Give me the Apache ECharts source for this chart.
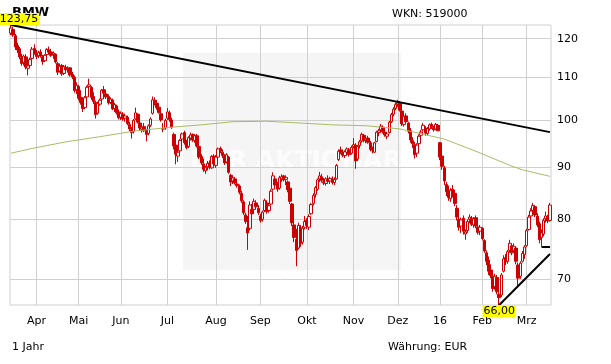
<!DOCTYPE html>
<html><head><meta charset="utf-8">
<script src="https://cdn.jsdelivr.net/npm/echarts@6/dist/echarts.min.js"></script>
<style>html,body{margin:0;padding:0;background:#fff}#c{width:611px;height:364px}</style>
</head><body><div id="c"></div>
<script>
// ---- data (BMW, daily OHLC, 16.03.2015 - 16.03.2016) ----
const open = [
121.5,122.5,120.8,118.2,117.3,115.0,113.8,115.2,112.3,113.0,
114.8,117.4,116.0,115.5,116.5,115.2,114.2,115.8,117.0,116.5,
115.8,115.9,113.5,111.6,113.0,111.0,112.5,112.0,112.4,110.8,
110.0,107.0,107.8,105.2,104.2,102.8,105.3,107.8,107.6,105.4,
104.0,101.5,103.6,104.8,107.0,106.0,105.4,104.0,104.6,102.6,
103.2,101.8,100.6,101.3,100.4,100.6,99.0,97.8,97.4,100.2,
101.3,99.3,97.9,98.5,97.5,
97.0,98.8,101.5,104.5,103.8,
102.9,101.4,98.0,98.2,100.4,101.6,100.0,96.8,94.5,92.2,
93.3,95.8,97.2,95.1,94.2,96.0,96.8,95.5,96.5,94.2,
92.1,90.6,89.2,90.0,90.8,89.8,92.2,90.3,92.0,93.8,
93.0,92.1,91.0,92.0,88.3,87.2,87.6,86.6,86.2,84.8,
83.2,80.8,78.5,78.4,81.8,81.8,83.0,82.0,80.6,80.0,
81.6,83.0,81.6,82.8,85.6,87.6,86.5,85.8,
87.6,88.2,87.5,87.0,85.8,82.8,79.0,76.5,75.0,78.5,76.0,78.6,
79.8,78.6,81.0,82.9,84.6,85.6,87.6,88.0,87.0,86.7,
87.5,87.2,87.6,86.9,87.6,91.5,93.5,92.9,92.3,93.0,
93.5,92.8,94.2,94.5,91.6,94.4,95.4,96.6,95.6,96.0,
95.0,93.5,93.0,95.3,97.2,97.8,98.4,97.3,96.4,97.2,
99.6,101.3,102.6,103.6,103.8,102.0,99.0,100.9,99.3,97.6,
95.5,
94.6,92.8,94.8,96.6,97.8,98.2,97.0,98.0,99.0,
98.3,98.0,98.8,95.0,92.2,89.8,86.5,85.4,83.8,85.6,
84.8,82.0,80.0,78.8,80.2,77.4,78.0,80.0,80.2,79.0,
80.3,78.6,77.9,78.4,76.3,74.2,73.0,71.4,70.4,68.8,
70.2,67.6,67.5,71.2,73.4,72.8,74.6,75.4,74.6,75.0,
72.2,70.4,72.8,73.9,75.4,78.2,80.6,81.6,82.3,80.6,
79.2,76.8,77.4,80.1,80.4,79.8];
const high = [
123.75,123.2,121.3,118.9,117.8,116.0,115.8,115.9,113.2,115.0,
117.8,118.5,117.0,116.8,117.2,115.7,115.9,117.5,117.9,117.3,
116.6,116.1,113.9,113.5,113.4,113.1,113.2,112.8,112.6,111.4,
110.5,108.8,108.2,106.9,104.8,105.5,108.0,109.7,107.9,106.4,
104.4,104.2,104.9,107.2,107.9,106.7,105.9,105.2,104.9,103.9,
103.5,102.4,101.9,101.8,101.4,101.0,99.6,98.4,100.2,102.8,
101.5,99.6,98.8,99.3,98.0,
99.0,100.6,105.4,105.2,104.5,
103.6,101.8,99.3,100.3,102.7,102.1,100.5,97.2,94.9,93.5,
95.8,97.2,97.6,95.6,96.4,97.2,97.0,96.8,96.9,94.8,
92.6,91.7,90.2,91.2,91.3,92.4,92.6,92.4,94.0,94.2,
93.6,92.6,92.8,92.2,88.6,88.2,88.0,87.4,86.5,85.3,
83.5,81.2,80.6,83.3,82.8,83.8,83.5,82.6,81.0,81.6,
83.8,83.5,82.9,85.6,88.9,88.0,87.0,88.2,
88.5,88.4,88.3,87.3,86.0,83.0,80.5,78.3,79.4,79.0,78.8,80.6,
80.2,80.9,83.0,84.8,86.2,87.7,89.0,88.6,87.8,87.9,
88.3,88.0,88.1,87.9,90.6,93.6,94.2,93.6,93.4,94.0,
93.9,94.4,96.0,94.9,94.5,95.6,97.2,96.9,96.3,96.5,
95.4,94.2,95.2,97.6,98.0,99.1,98.8,97.8,97.2,99.8,
101.6,102.9,104.0,104.6,104.3,102.4,101.2,101.5,99.6,98.2,
96.2,
95.2,94.9,96.8,97.8,99.3,98.6,98.4,99.2,99.4,
98.7,99.3,99.1,95.2,92.6,90.2,87.0,86.3,85.8,86.4,
85.5,82.6,80.8,80.3,80.7,78.2,80.0,80.9,80.6,80.4,
80.7,79.2,79.0,78.6,76.5,74.6,73.6,72.3,70.9,70.8,
70.6,68.6,70.9,73.8,74.0,74.7,76.4,75.7,75.8,75.2,
72.6,72.8,74.5,75.5,78.3,80.8,82.0,83.0,82.6,81.1,
79.6,78.2,80.2,81.4,80.8,83.0];
const low = [
121.0,120.5,117.0,116.2,114.6,112.9,113.0,112.0,110.5,112.6,
114.5,115.8,114.6,114.9,115.0,113.2,113.9,115.5,116.0,115.2,
114.7,113.5,110.6,111.2,110.4,110.6,111.4,111.2,110.2,109.6,
106.3,106.0,104.5,103.5,101.8,102.4,105.0,107.2,104.6,103.6,
100.3,101.2,103.2,104.5,105.8,104.8,103.5,103.6,102.2,101.8,
101.2,100.1,100.0,99.8,99.6,98.8,97.5,95.9,97.0,100.0,
99.2,97.6,97.2,97.3,95.3,
96.6,98.4,101.2,103.3,102.3,
101.4,99.6,97.3,97.8,100.0,99.6,98.0,93.6,90.5,91.0,
93.0,95.0,94.6,93.6,93.9,95.5,95.2,95.0,94.0,91.6,
90.4,89.0,88.6,89.3,89.5,89.6,90.3,89.8,91.5,92.8,
91.8,90.4,90.7,88.6,86.2,86.6,86.5,85.9,84.6,83.0,
80.8,79.2,74.7,78.0,80.3,81.5,81.8,80.8,79.4,79.6,
81.3,81.0,81.2,82.6,85.3,86.0,85.1,85.5,
87.0,87.1,86.4,85.0,82.8,78.8,76.0,72.0,74.8,75.2,75.6,78.2,
78.3,78.1,80.8,82.5,84.0,85.3,87.0,86.9,86.4,86.3,
86.8,86.6,86.5,86.4,87.4,91.2,92.6,92.0,91.8,92.6,
92.1,92.5,93.8,89.6,91.2,93.8,95.0,95.1,94.9,94.8,
93.2,92.8,92.9,95.1,96.4,97.2,97.0,96.3,95.8,97.0,
99.3,100.8,102.2,103.0,101.9,98.6,98.5,99.2,97.0,95.0,
93.9,
91.7,92.0,94.4,95.6,97.4,96.5,96.6,97.6,98.0,
97.4,97.7,97.5,91.4,89.4,86.4,84.3,83.4,83.2,84.0,
82.4,79.8,78.0,77.6,77.3,76.4,77.6,79.3,78.8,78.5,
78.4,77.3,77.2,76.3,74.2,72.2,70.6,70.1,68.0,68.3,
67.6,66.0,67.2,71.0,72.2,72.4,74.2,73.8,74.3,72.3,
68.7,70.0,72.6,73.2,75.2,78.0,80.0,81.2,80.4,78.6,
75.8,75.3,77.0,79.4,79.3,79.6];
const close = [
122.9,121.0,117.8,117.0,115.2,113.5,115.4,112.6,112.9,114.5,
117.2,116.0,115.3,116.3,115.4,114.0,115.6,117.1,116.4,115.6,
116.2,113.9,111.3,112.8,110.9,112.7,111.9,112.3,110.6,110.1,
106.8,108.1,105.0,104.0,102.6,105.1,107.6,108.2,105.2,104.2,
101.2,103.8,104.5,106.9,106.2,105.3,103.9,104.8,102.5,103.5,
101.6,100.5,101.5,100.2,100.9,99.2,98.0,97.2,99.9,101.6,
99.5,98.2,98.4,97.6,96.8,
98.7,100.2,104.6,104.0,102.8,
101.7,100.0,98.0,99.9,101.8,100.1,98.4,94.3,92.6,93.0,
95.5,96.9,95.0,94.0,96.1,96.7,95.6,96.5,94.3,92.0,
90.8,89.5,89.9,90.7,89.9,92.1,90.6,92.0,93.7,93.2,
92.3,90.8,92.5,88.9,87.0,87.8,86.8,86.3,85.0,83.4,
81.2,79.6,77.6,82.6,81.0,83.3,82.3,81.2,79.8,81.3,
83.5,81.4,82.5,85.2,88.2,86.4,85.6,87.8,
88.0,87.4,87.9,85.5,83.3,79.4,76.8,74.6,78.9,75.8,78.4,79.6,
78.9,80.5,82.7,84.4,85.9,87.4,88.2,87.3,86.8,87.6,
87.1,87.7,86.9,87.5,90.3,93.2,93.0,92.4,93.1,93.7,
92.5,94.0,94.6,91.2,94.2,95.2,96.8,95.5,95.9,95.1,
93.6,93.4,95.0,97.3,97.6,98.6,97.4,96.7,96.9,99.5,
101.2,102.4,103.5,103.9,102.2,99.1,100.8,99.6,97.5,95.6,
94.8,
92.5,94.5,96.4,97.3,98.8,97.1,98.1,98.9,98.5,
97.8,99.0,97.6,92.0,90.1,87.2,85.1,84.0,85.4,84.5,
82.9,80.4,78.6,79.9,77.9,77.8,79.6,80.4,79.1,80.1,
78.8,77.7,78.6,76.6,74.5,72.8,71.2,70.5,68.5,70.4,
68.0,67.1,70.6,73.2,72.7,74.4,75.8,74.2,75.3,72.8,
70.1,72.5,74.1,75.2,78.0,80.4,81.5,82.5,80.8,79.0,
76.4,77.6,79.8,80.6,79.7,82.6];

// 200-day moving average, read at selected trading days
const maIndex = [0, 10, 26, 42, 58, 74, 90, 105, 121, 137, 152, 168, 184, 205, 220, 236, 242, 255];
const maValue = [92.8, 93.8, 95.2, 96.3, 97.5, 98.3, 98.9, 99.6, 99.7, 99.3, 98.9, 98.7, 98.0, 95.8, 93.2, 90.3, 89.4, 88.1];

// trend lines [startIndex, startValue, endIndex, endValue]
const trendLines = [[0, 123.75, 255, 97.3], [231, 66.0, 255, 74.0], [251, 75.3, 255, 75.3]];

const yTicks = [70, 80, 90, 100, 110, 120];
const monthNames = ['16', 'Feb', 'Mrz', 'Apr', 'Mai', 'Jun', 'Jul', 'Aug', 'Sep', 'Okt', 'Nov', 'Dez'];
const holidays = ['2015-04-03', '2015-04-06', '2015-05-01', '2015-12-24', '2015-12-25', '2015-12-31', '2016-01-01'];

// trading-day categories
const dates = [];
for (let t = Date.UTC(2015, 2, 16); t <= Date.UTC(2016, 2, 16); t += 86400000) {
  const d = new Date(t), wd = d.getUTCDay(), s = d.toISOString().slice(0, 10);
  if (wd !== 0 && wd !== 6 && holidays.indexOf(s) < 0) dates.push(s);
}
const monthStart = dates.map((s, i) => i > 0 && s.slice(5, 7) !== dates[i - 1].slice(5, 7));
const monthIdx = [];
monthStart.forEach((b, i) => { if (b) monthIdx.push(i); });

const FONT = '"DejaVu Sans", Verdana, sans-serif';
const fmt = v => v.toFixed(2).replace('.', ',');

const chart = echarts.init(document.getElementById('c'), null, { renderer: 'canvas' });
chart.setOption({
  animation: false,
  grid: { left: 10, right: 60, top: 25, bottom: 59, show: true, borderColor: '#d0d0d0', borderWidth: 1, backgroundColor: 'transparent' },
  xAxis: {
    type: 'category', data: dates, boundaryGap: true,
    axisLine: { show: false }, axisTick: { show: false }, splitLine: { show: false },
    axisLabel: {
      interval: i => monthStart[i],
      formatter: v => monthNames[+v.slice(5, 7) - 1],
      color: '#000', fontSize: 11, fontFamily: FONT, margin: 11
    }
  },
  yAxis: {
    type: 'log', logBase: 10, min: 66, max: 123.75, position: 'right',
    axisLine: { show: false }, axisTick: { show: false }, axisLabel: { show: false }, splitLine: { show: false }
  },
  graphic: [
    { type: 'rect', left: 183, top: 53, shape: { width: 218, height: 217 }, style: { fill: '#f5f5f5' }, z: -10, silent: true },
    { type: 'text', left: 190, top: 149, style: { text: 'DER AKTIONÄR', font: 'bold 25px ' + FONT, fill: '#fcfcfc' }, z: -9, silent: true },
    { type: 'text', left: 12, top: 6, style: { text: 'BMW', font: 'bold 13px ' + FONT, fill: '#000' }, silent: true },
    { type: 'text', left: 392, top: 9, style: { text: 'WKN: 519000', font: '11px ' + FONT, fill: '#000' }, silent: true },
    { type: 'text', left: 12, top: 342, style: { text: '1 Jahr', font: '11px ' + FONT, fill: '#000' }, silent: true },
    { type: 'text', left: 388, top: 342, style: { text: 'Währung: EUR', font: '11px ' + FONT, fill: '#000' }, silent: true }
  ],
  series: [
    {
      type: 'candlestick', name: 'BMW',
      data: dates.map((_, i) => [open[i], close[i], low[i], high[i]]),
      barWidth: 3, z: 2,
      itemStyle: { color: '#ffffff', color0: '#cc0000', borderColor: '#cc0000', borderColor0: '#cc0000', borderWidth: 1 },
      markPoint: {
        symbol: 'circle', symbolSize: 0, silent: true,
        itemStyle: { color: 'transparent' },
        label: {
          show: true, formatter: p => fmt(p.value), color: '#000', fontSize: 11, fontFamily: FONT,
          backgroundColor: '#ffff00', padding: [1, 1, 0, 1], lineHeight: 11
        },
        data: [
          { type: 'max', valueDim: 'highest', label: { position: 'top', distance: 0, offset: [8, 0] } },
          { type: 'min', valueDim: 'lowest', label: { position: 'bottom', distance: 0 } }
        ]
      },
      markLine: {
        silent: true, symbol: ['none', 'none'], label: { show: false },
        lineStyle: { color: '#000', width: 2, type: 'solid' },
        emphasis: { disabled: true },
        data: trendLines.map(t => [{ coord: [t[0], t[1]] }, { coord: [t[2], t[3]] }])
      }
    },
    {
      type: 'line', name: 'GD200',
      data: maIndex.map((x, k) => [x, maValue[k]]),
      symbol: 'none', z: 3,
      lineStyle: { color: '#aabb66', width: 1 },
      markLine: {
        z: 1, silent: true, symbol: ['none', 'none'],
        lineStyle: { color: '#d0d0d0', width: 1, type: 'solid' },
        emphasis: { disabled: true },
        label: { show: false },
        data: yTicks.map(v => ({
          yAxis: v,
          label: { show: true, position: 'end', formatter: String(v), color: '#000', fontSize: 11, fontFamily: FONT, distance: 6 }
        })).concat(monthIdx.map(i => ({ xAxis: i, label: { show: false } })))
      }
    }
  ]
});
</script>
</body></html>
